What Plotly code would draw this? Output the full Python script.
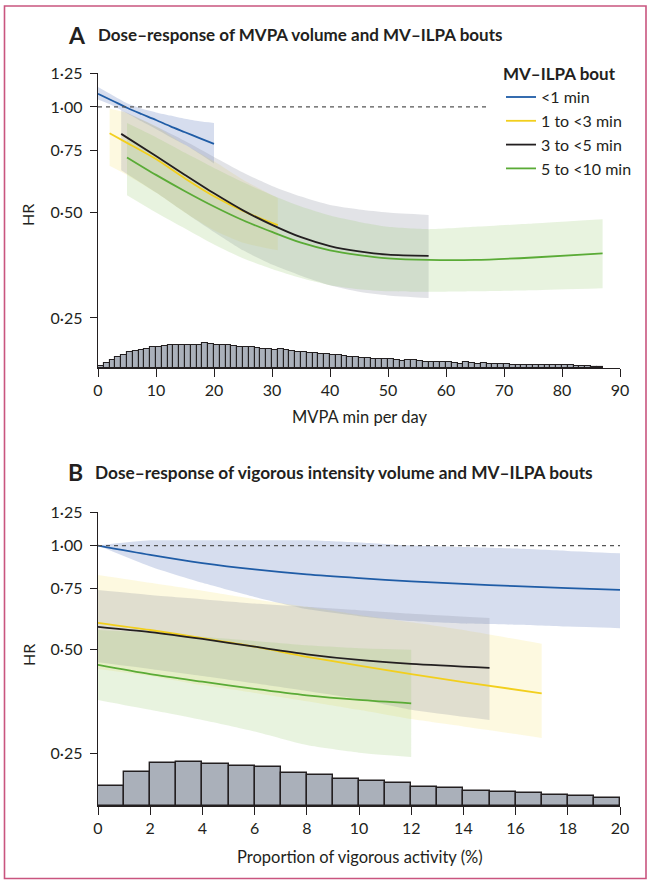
import math
import plotly.graph_objects as go

# ---------------- DATA ----------------
# Panel A: MVPA min per day
a_blue_x = [0, 2.5, 5, 7.5, 10, 12.5, 15, 17.5, 20]
a_blue_hr = [1.09, 1.042, 0.995, 0.955, 0.918, 0.88, 0.847, 0.815, 0.785]
a_blue_lo = [1.05, 1.01, 0.96, 0.91, 0.865, 0.82, 0.78, 0.735, 0.69]
a_blue_hi = [1.14, 1.08, 1.025, 0.99, 0.965, 0.945, 0.925, 0.91, 0.90]

a_yel_x = [2, 5, 10, 15, 20, 25, 31]
a_yel_hr = [0.841, 0.79, 0.71, 0.625, 0.556, 0.505, 0.46]
a_yel_lo = [0.68, 0.64, 0.57, 0.50, 0.445, 0.41, 0.39]
a_yel_hi = [0.99, 0.96, 0.88, 0.78, 0.70, 0.62, 0.55]

a_blk_x = [4, 10, 15, 20, 25, 30, 35, 40, 45, 50, 57]
a_blk_hr = [0.838, 0.725, 0.64, 0.567, 0.507, 0.461, 0.425, 0.401, 0.387, 0.379, 0.376]
a_blk_lo = [0.66, 0.57, 0.50, 0.44, 0.39, 0.355, 0.33, 0.31, 0.297, 0.29, 0.285]
a_blk_hi = [0.98, 0.88, 0.80, 0.72, 0.65, 0.595, 0.555, 0.525, 0.51, 0.50, 0.492]

a_grn_x = [5, 10, 15, 20, 25, 30, 35, 40, 45, 50, 57, 65, 75, 87]
a_grn_hr = [0.718, 0.64, 0.575, 0.52, 0.475, 0.44, 0.41, 0.39, 0.378, 0.37, 0.366, 0.366, 0.372, 0.382]
a_grn_lo = [0.56, 0.50, 0.45, 0.405, 0.37, 0.345, 0.325, 0.31, 0.302, 0.298, 0.297, 0.298, 0.30, 0.304]
a_grn_hi = [0.90, 0.82, 0.74, 0.67, 0.61, 0.56, 0.52, 0.49, 0.47, 0.455, 0.448, 0.455, 0.465, 0.478]

# Panel A histogram (1-min bins starting at 0), relative frequency
a_hist = [2.3, 5, 7.7, 10.7, 13, 16, 17.3, 18, 19.3, 20.7, 21.3, 21.7, 23.3, 22.7, 22.7,
          22.7, 23, 23, 25, 24, 23, 23.3, 23.3, 21.7, 21, 21, 21, 20, 19, 19,
          18.3, 18.7, 18.3, 17.3, 16, 16.3, 15.5, 15, 14.5, 14, 13.3, 12.7, 12, 11.3, 10.7,
          10, 9.7, 9.3, 9, 8.7, 8.7, 8, 7.3, 8, 7.7, 7, 6.3, 6.3, 6, 6,
          5.7, 5.3, 4.3, 5.7, 4.7, 4.3, 4.7, 4.3, 4, 3.7, 3.7, 3.3, 3.3, 3, 3,
          3, 2.8, 2.8, 2.7, 2.7, 2.7, 2.7, 2, 1.7, 1.7, 1.3, 1]

# Panel B: proportion of vigorous activity (%)
b_blue_x = [0, 2, 4, 6, 8, 10, 12, 14, 16, 18, 20]
b_blue_hr = [1.0, 0.94, 0.89, 0.853, 0.825, 0.805, 0.788, 0.775, 0.763, 0.753, 0.744]
b_blue_lo = [1.0, 0.87, 0.78, 0.71, 0.655, 0.625, 0.605, 0.595, 0.59, 0.583, 0.577]
b_blue_hi = [1.0, 1.035, 1.035, 1.035, 1.035, 1.02, 1.0, 0.99, 0.98, 0.965, 0.95]

b_yel_x = [0, 2, 4, 6, 8, 10, 12, 14, 17]
b_yel_hr = [0.598, 0.57, 0.54, 0.51, 0.477, 0.45, 0.425, 0.403, 0.374]
b_yel_lo = [0.44, 0.42, 0.395, 0.375, 0.355, 0.335, 0.315, 0.30, 0.278]
b_yel_hi = [0.822, 0.78, 0.74, 0.70, 0.665, 0.63, 0.60, 0.57, 0.52]

b_blk_x = [0, 2, 4, 6, 8, 10, 12, 15]
b_blk_hr = [0.582, 0.562, 0.537, 0.51, 0.485, 0.467, 0.455, 0.443]
b_blk_lo = [0.46, 0.44, 0.42, 0.40, 0.38, 0.36, 0.335, 0.313]
b_blk_hi = [0.744, 0.72, 0.70, 0.68, 0.665, 0.65, 0.635, 0.617]

b_grn_x = [0, 2, 4, 6, 8, 10, 12]
b_grn_hr = [0.452, 0.425, 0.404, 0.385, 0.369, 0.358, 0.35]
b_grn_lo = [0.358, 0.335, 0.313, 0.29, 0.265, 0.252, 0.245]
b_grn_hi = [0.57, 0.56, 0.545, 0.53, 0.515, 0.505, 0.50]

# Panel B histogram (1 % bins starting at 0), relative frequency
b_hist = [20.3, 34, 43.3, 44.3, 42, 40.3, 39.3, 33.3, 30.7, 27, 25, 22.7, 19.3, 18,
          14.7, 13.7, 12.7, 10.7, 10, 8.3]

series_names = ["&lt;1 min", "1 to &lt;3 min", "3 to &lt;5 min", "5 to &lt;10 min"]
y_tick_vals = [0.25, 0.5, 0.75, 1.0, 1.25]
y_tick_text = ["0·25", "0·50", "0·75", "1·00", "1·25"]
a_x_ticks = [0, 10, 20, 30, 40, 50, 60, 70, 80, 90]
b_x_ticks = [0, 2, 4, 6, 8, 10, 12, 14, 16, 18, 20]

# ---------------- STYLE ----------------
W, H = 653, 885
FONT = "Lato"
TXT = "#231f20"
line_cols = ["#1f5ca6", "#f2cf1d", "#231f20", "#5aab36"]
band_cols = ["rgba(95,125,190,0.26)", "rgba(245,225,110,0.21)",
             "rgba(135,140,155,0.24)", "rgba(150,200,110,0.22)"]
HIST_FILL = "#aab0ba"


def px(x):
    return x / W


def py(y):
    return 1 - y / H


fig = go.Figure()


def add_panel(xa, ya, data, showlegend):
    for i, (xs, hr, lo, hi) in enumerate(data):
        fig.add_trace(go.Scatter(
            x=xs, y=lo, mode="lines",
            line=dict(width=0, shape="spline", smoothing=0.6),
            hoverinfo="skip", showlegend=False, xaxis=xa, yaxis=ya))
        fig.add_trace(go.Scatter(
            x=xs, y=hi, mode="lines", fill="tonexty", fillcolor=band_cols[i],
            line=dict(width=0, shape="spline", smoothing=0.6),
            hoverinfo="skip", showlegend=False, xaxis=xa, yaxis=ya))
    for i, (xs, hr, lo, hi) in enumerate(data):
        fig.add_trace(go.Scatter(
            x=xs, y=hr, mode="lines", name=series_names[i],
            line=dict(color=line_cols[i], width=1.8, shape="spline", smoothing=0.8),
            showlegend=showlegend, xaxis=xa, yaxis=ya))


add_panel("x", "y", [
    (a_blue_x, a_blue_hr, a_blue_lo, a_blue_hi),
    (a_yel_x, a_yel_hr, a_yel_lo, a_yel_hi),
    (a_blk_x, a_blk_hr, a_blk_lo, a_blk_hi),
    (a_grn_x, a_grn_hr, a_grn_lo, a_grn_hi)], True)
add_panel("x2", "y2", [
    (b_blue_x, b_blue_hr, b_blue_lo, b_blue_hi),
    (b_yel_x, b_yel_hr, b_yel_lo, b_yel_hi),
    (b_blk_x, b_blk_hr, b_blk_lo, b_blk_hi),
    (b_grn_x, b_grn_hr, b_grn_lo, b_grn_hi)], False)

# reference lines at HR = 1
fig.add_trace(go.Scatter(x=[0, 67.5], y=[1, 1], mode="lines",
                         line=dict(color="#555", width=1.2, dash="4px,4px"),
                         showlegend=False, hoverinfo="skip", xaxis="x", yaxis="y"))
fig.add_trace(go.Scatter(x=[0, 20], y=[1, 1], mode="lines",
                         line=dict(color="#555", width=1.2, dash="4px,4px"),
                         showlegend=False, hoverinfo="skip", xaxis="x2", yaxis="y2"))

# histograms
fig.add_trace(go.Bar(x=[i + 0.5 for i in range(len(a_hist))], y=a_hist, width=1,
                     marker=dict(color=HIST_FILL, line=dict(color=TXT, width=1.1)),
                     showlegend=False, hoverinfo="skip", xaxis="x", yaxis="y3"))
fig.add_trace(go.Bar(x=[i + 0.5 for i in range(len(b_hist))], y=b_hist, width=1,
                     marker=dict(color=HIST_FILL, line=dict(color=TXT, width=1.4)),
                     showlegend=False, hoverinfo="skip", xaxis="x2", yaxis="y4"))

axis_common = dict(showline=True, linecolor=TXT, linewidth=1.4, ticks="outside",
                   tickcolor=TXT, tickwidth=1.3, showgrid=False, zeroline=False,
                   automargin=False,
                   tickfont=dict(family=FONT, size=16, color=TXT))

xdom = [px(98), px(620)]
fig.update_layout(
    width=W, height=H, margin=dict(l=0, r=0, t=0, b=0, pad=0), autosize=False,
    paper_bgcolor="white", plot_bgcolor="rgba(0,0,0,0)",
    font=dict(family=FONT, color=TXT),
    barmode="overlay", bargap=0,
    xaxis=dict(domain=xdom, range=[0, 90], tickvals=a_x_ticks, ticklen=8,
               anchor="y", **axis_common),
    yaxis=dict(domain=[py(368), py(73)], type="log",
               range=[math.log10(0.18), math.log10(1.25)],
               tickvals=y_tick_vals, ticktext=y_tick_text, ticklen=7,
               ticklabelstandoff=4, anchor="x", **axis_common),
    yaxis3=dict(overlaying="y", range=[0, 295], visible=False, anchor="x"),
    xaxis2=dict(domain=xdom, range=[0, 20], tickvals=b_x_ticks, ticklen=8,
                anchor="y2", **axis_common),
    yaxis2=dict(domain=[py(806), py(512)], type="log",
                range=[math.log10(0.1767), math.log10(1.25)],
                tickvals=y_tick_vals, ticktext=y_tick_text, ticklen=7,
                ticklabelstandoff=4, anchor="x2", **axis_common),
    yaxis4=dict(overlaying="y2", range=[0, 294], visible=False, anchor="x2"),
    legend=dict(x=px(501), y=py(58), xanchor="left", yanchor="top",
                traceorder="normal",
                bgcolor="rgba(0,0,0,0)", itemwidth=30,
                font=dict(family=FONT, size=16, color=TXT),
                title=dict(text="<b>MV–ILPA bout</b>",
                           font=dict(family=FONT, size=17, color=TXT))),
)

ann = []


def add_text(x, y, text, size, bold=False, xanchor="left", angle=0):
    ann.append(dict(x=px(x), y=py(y), xref="paper", yref="paper", showarrow=False,
                    text=f"<b>{text}</b>" if bold else text, xanchor=xanchor,
                    yanchor="middle", textangle=angle,
                    font=dict(family=FONT, size=size, color=TXT)))


add_text(66, 35, "A", 23, bold=True)
add_text(96, 35, "Dose–response of MVPA volume and MV–ILPA bouts", 17, bold=True)
add_text(66, 472, "B", 23, bold=True)
add_text(93, 472, "Dose–response of vigorous intensity volume and MV–ILPA bouts", 17.3, bold=True)
add_text(28, 215, "HR", 16, xanchor="center", angle=-90)
add_text(28, 655, "HR", 16, xanchor="center", angle=-90)
add_text(359, 417, "MVPA min per day", 16.5, xanchor="center")
add_text(360, 857, "Proportion of vigorous activity (%)", 16.5, xanchor="center")
fig.update_layout(annotations=ann)

# outer frame
fig.add_shape(type="rect", xref="paper", yref="paper",
              x0=px(4.5), x1=px(646), y0=py(878.5), y1=py(6),
              line=dict(color="#c9557f", width=1.6), fillcolor="rgba(0,0,0,0)")

fig.write_html("out.html", config={"displayModeBar": False},
               post_script="document.body.style.margin='0';document.documentElement.style.overflow='hidden';")
